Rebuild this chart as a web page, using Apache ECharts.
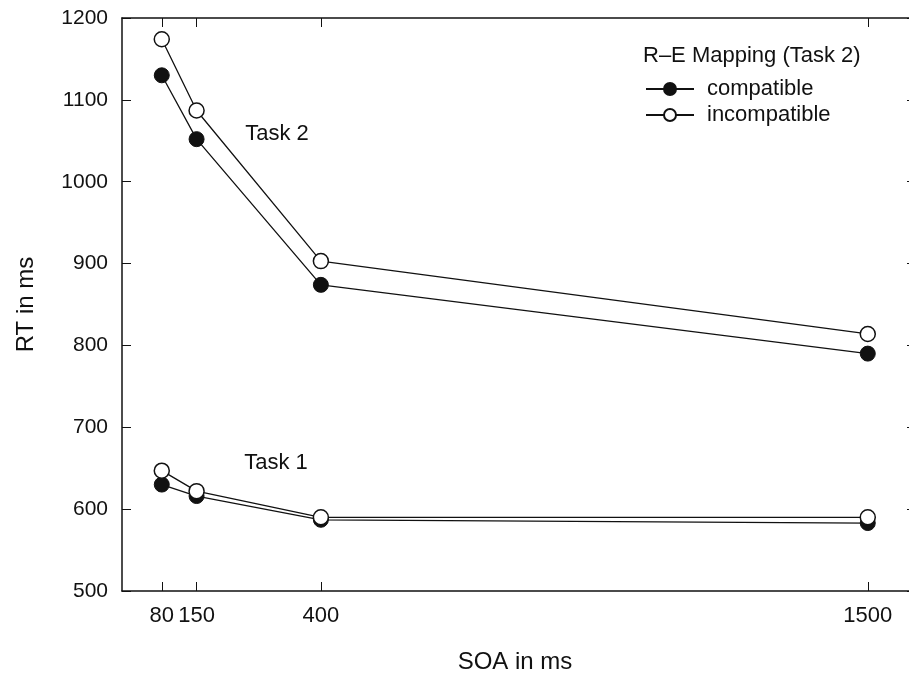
<!DOCTYPE html>
<html>
<head>
<meta charset="utf-8">
<script src="https://cdn.jsdelivr.net/npm/echarts@6/dist/echarts.min.js"></script>
<style>
  html, body { margin: 0; padding: 0; background: #fff; }
  #chart { width: 909px; height: 675px; }
</style>
</head>
<body>
<div id="chart"></div>
<script>
// SOA levels (ms) and mean RTs
const soa = [80, 150, 400, 1500]
const task2Compatible = [1130, 1052, 874, 790]
const task2Incompatible = [1174, 1087, 903, 814]
const task1Compatible = [630, 616, 587, 583]
const task1Incompatible = [647, 622, 590, 590]

const font = 'Liberation Sans, Arial, sans-serif'
const ink = '#111'

function pairs(ys) {
  return soa.map((x, i) => [x, ys[i]])
}

function lineSeries(name, ys, open) {
  return {
    name: name,
    type: 'line',
    data: pairs(ys),
    symbol: 'circle',
    symbolSize: 15,
    lineStyle: { color: ink, width: 1.3 },
    itemStyle: {
      color: open ? '#fff' : ink,
      borderColor: ink,
      borderWidth: open ? 1.5 : 1,
    },
    emphasis: { disabled: true },
    animation: false,
  }
}

// plain numbers, no thousands separator
const plain = (v) => String(v)

const chart = echarts.init(document.getElementById('chart'))

// frame with inward ticks on all four sides; onZero off so each axis stays on its own edge
const axisLine = { show: true, onZero: false, lineStyle: { color: ink, width: 1.5 } }
const tickStyle = { color: ink, width: 1 }

chart.setOption({
  backgroundColor: '#fff',
  textStyle: { fontFamily: font },
  title: {
    text: 'R–E Mapping (Task 2)',
    left: 638,
    top: 40,
    textStyle: { fontFamily: font, fontSize: 22, fontWeight: 'normal', color: ink },
  },
  legend: {
    left: 640,
    top: 73,
    orient: 'vertical',
    itemWidth: 48,
    itemHeight: 15,
    itemGap: 4,
    data: ['compatible', 'incompatible'],
    textStyle: { fontFamily: font, fontSize: 22, color: ink, padding: [0, 0, 0, 8] },
    selectedMode: false,
  },
  // the original frame runs just past the right edge of the picture
  grid: { left: 122, right: -7, top: 18, bottom: 84, outerBoundsMode: 'none' },
  xAxis: [
    {
      type: 'value',
      position: 'bottom',
      min: 0,
      max: 1597,
      name: 'SOA in ms',
      nameLocation: 'middle',
      nameGap: 59,
      nameTextStyle: { fontFamily: font, fontSize: 24, color: ink, padding: [0, 8, 0, 0] },
      axisLine: axisLine,
      axisTick: { show: true, inside: true, length: 9, lineStyle: tickStyle, customValues: soa },
      axisLabel: { customValues: soa, margin: 14, fontSize: 22, color: ink, formatter: plain },
      splitLine: { show: false },
    },
    {
      type: 'value',
      position: 'top',
      min: 0,
      max: 1597,
      axisLine: axisLine,
      axisTick: { show: true, inside: true, length: 9, lineStyle: tickStyle, customValues: soa },
      axisLabel: { show: false },
      splitLine: { show: false },
    },
  ],
  yAxis: [
    {
      type: 'value',
      position: 'left',
      min: 500,
      max: 1200,
      interval: 100,
      name: 'RT in ms',
      nameLocation: 'middle',
      nameGap: 84,
      nameTextStyle: { fontFamily: font, fontSize: 24, color: ink },
      axisLine: axisLine,
      axisTick: { show: true, inside: true, length: 9, lineStyle: tickStyle },
      axisLabel: { margin: 14, fontSize: 21, color: ink, formatter: plain },
      splitLine: { show: false },
    },
    {
      type: 'value',
      position: 'right',
      min: 500,
      max: 1200,
      interval: 100,
      axisLine: axisLine,
      axisTick: { show: true, inside: true, length: 9, lineStyle: tickStyle },
      axisLabel: { show: false },
      splitLine: { show: false },
    },
  ],
  graphic: [
    {
      type: 'text',
      x: 277,
      y: 134,
      style: { text: 'Task 2', font: '22px ' + font, fill: ink, align: 'center', verticalAlign: 'middle' },
    },
    {
      type: 'text',
      x: 276,
      y: 463,
      style: { text: 'Task 1', font: '22px ' + font, fill: ink, align: 'center', verticalAlign: 'middle' },
    },
  ],
  series: [
    lineSeries('compatible', task2Compatible, false),
    lineSeries('incompatible', task2Incompatible, true),
    lineSeries('compatible', task1Compatible, false),
    lineSeries('incompatible', task1Incompatible, true),
  ],
})
</script>
</body>
</html>
